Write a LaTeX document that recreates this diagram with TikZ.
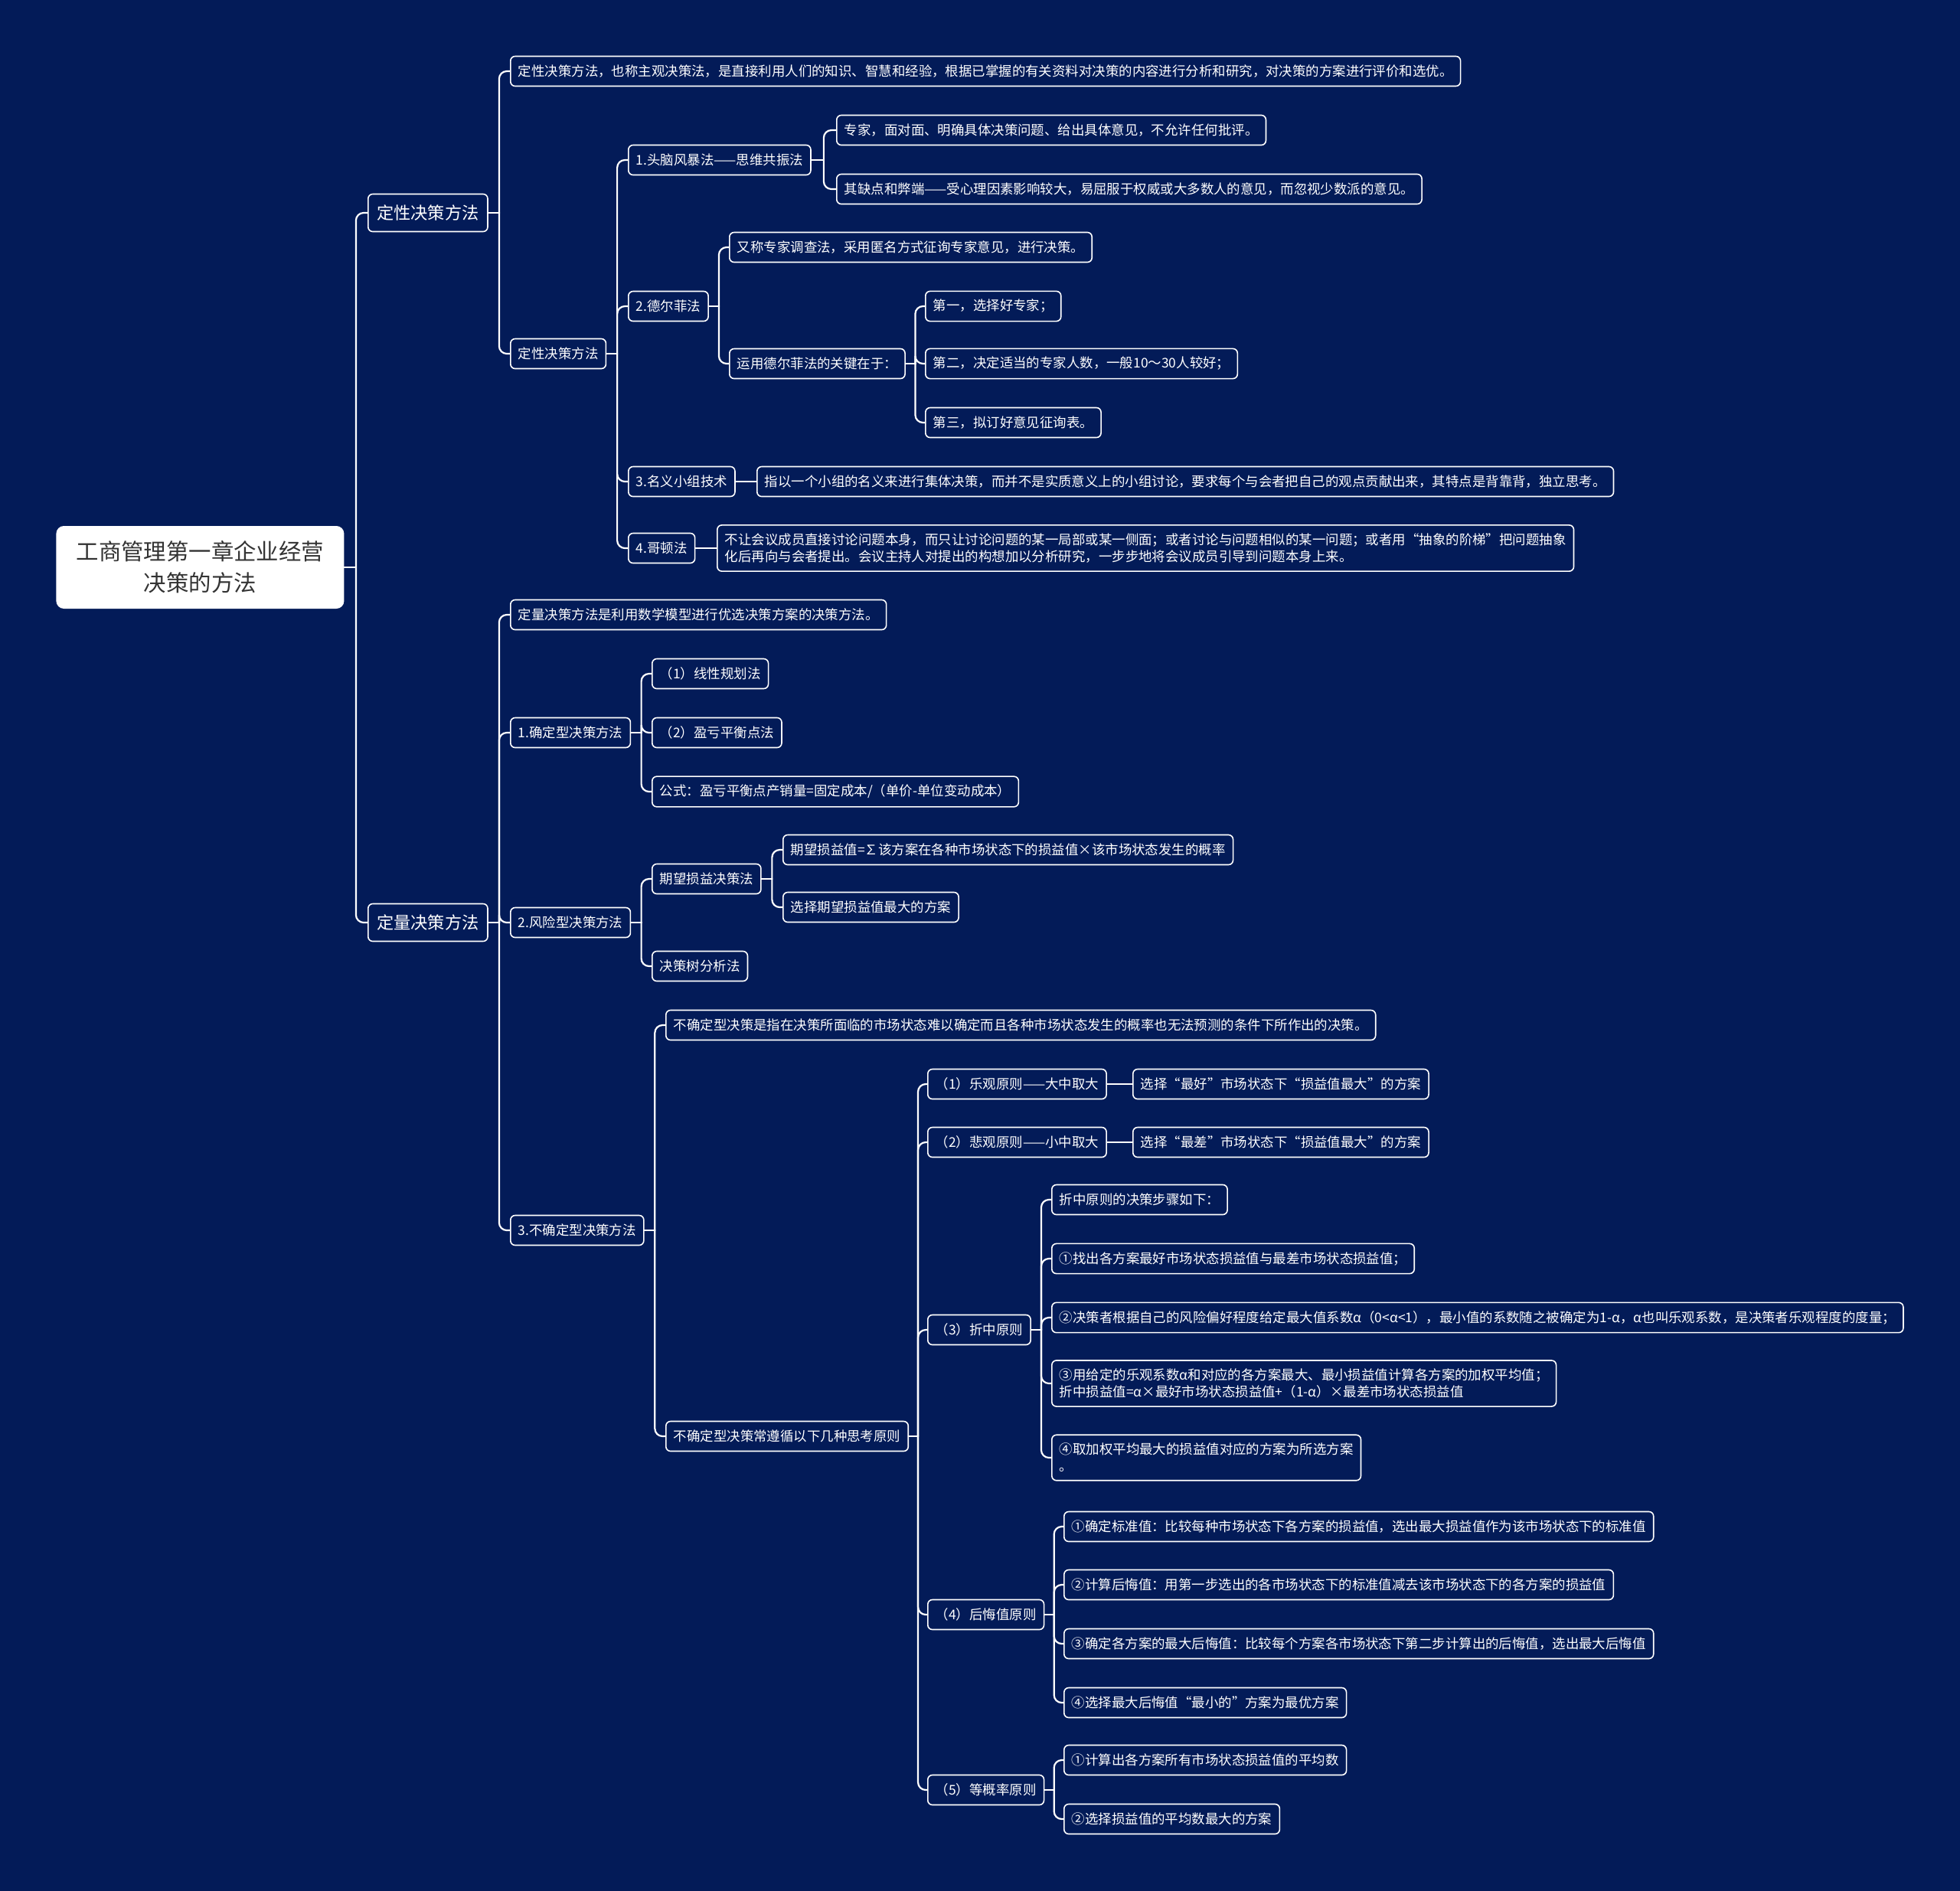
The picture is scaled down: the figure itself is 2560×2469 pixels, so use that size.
\documentclass[tikz,border=0pt]{standalone}
\usepackage{fontspec}
\setmainfont{Noto Sans CJK SC}
\usetikzlibrary{calc}
\definecolor{navybg}{HTML}{031B58}
\definecolor{roottext}{HTML}{333333}
\tikzset{
  link/.style={draw=white, line width=1.1pt, line cap=round},
  leaf/.style={draw=white, line width=0.8pt, rounded corners=3pt, fill=navybg,
    text=white, anchor=west, align=left, inner xsep=5pt, inner ysep=5.4pt,
    minimum height=19.5pt, font=\fontsize{8.72}{11}\selectfont},
  topic/.style={leaf, inner xsep=5.75pt, minimum height=24.5pt,
    font=\fontsize{11.1}{14}\selectfont},
  rootbox/.style={fill=white, rounded corners=5pt, text=roottext, anchor=west,
    align=center, minimum width=188pt, minimum height=54pt,
    font=\fontsize{14.7}{20.4}\selectfont},
}
% stub from the parent to the trunk, then a rounded bend into the child
\newcommand{\branch}[2]{%
  \draw[link] (#1.east) -- ($(#1.east)!0.5!(#1.east -| #2.west)$);
  \draw[link, rounded corners=5pt] ($(#1.east)!0.5!(#1.east -| #2.west)$) |- (#2.west);}
\begin{document}
\begin{tikzpicture}[x=0.5pt, y=-0.5pt]
    \useasboundingbox (0,0) rectangle (2560,2469);
    \fill[navybg] (-10,-10) rectangle (2570,2479);
    % Root and the two main groups of methods
    \node[rootbox] (root) at (73,741) {工商管理第一章企业经营\\决策的方法};
    \node[topic] (qual) at (480,278) {定性决策方法};
    \node[topic] (quant) at (480,1205) {定量决策方法};
    % Qualitative side
    \node[leaf] (qualdef) at (666,93) {定性决策方法，也称主观决策法，是直接利用人们的知识、智慧和经验，根据已掌握的有关资料对决策的内容进行分析和研究，对决策的方案进行评价和选优。};
    \node[leaf] (qualm) at (666,462) {定性决策方法};
    \node[leaf] (brain) at (820,209) {1.头脑风暴法——思维共振法};
    \node[leaf] (brainA) at (1092,170) {专家，面对面、明确具体决策问题、给出具体意见，不允许任何批评。};
    \node[leaf] (brainB) at (1092,247) {其缺点和弊端——受心理因素影响较大，易屈服于权威或大多数人的意见，而忽视少数派的意见。};
    \node[leaf] (delphi) at (820,400) {2.德尔菲法};
    \node[leaf] (delphiA) at (952,323) {又称专家调查法，采用匿名方式征询专家意见，进行决策。};
    \node[leaf] (delphiKey) at (952,475) {运用德尔菲法的关键在于：};
    \node[leaf] (key1) at (1208,400) {第一，选择好专家；};
    \node[leaf] (key2) at (1208,475) {第二，决定适当的专家人数，一般10～30人较好；};
    \node[leaf] (key3) at (1208,552) {第三，拟订好意见征询表。};
    \node[leaf] (nominal) at (820,629) {3.名义小组技术};
    \node[leaf] (nominalA) at (988,629) {指以一个小组的名义来进行集体决策，而并不是实质意义上的小组讨论，要求每个与会者把自己的观点贡献出来，其特点是背靠背，独立思考。};
    \node[leaf] (gordon) at (820,716) {4.哥顿法};
    \node[leaf] (gordonA) at (936,716) {不让会议成员直接讨论问题本身，而只让讨论问题的某一局部或某一侧面；或者讨论与问题相似的某一问题；或者用“抽象的阶梯”把问题抽象\\化后再向与会者提出。会议主持人对提出的构想加以分析研究，一步步地将会议成员引导到问题本身上来。};
    % Quantitative side
    \node[leaf] (quantdef) at (666,803) {定量决策方法是利用数学模型进行优选决策方案的决策方法。};
    \node[leaf] (certain) at (666,957) {1.确定型决策方法};
    \node[leaf] (lp) at (851,880) {（1）线性规划法};
    \node[leaf] (be) at (851,957) {（2）盈亏平衡点法};
    \node[leaf] (formula) at (851,1034) {公式：盈亏平衡点产销量=固定成本/（单价-单位变动成本）};
    \node[leaf] (risk) at (666,1205) {2.风险型决策方法};
    \node[leaf] (expect) at (851,1148) {期望损益决策法};
    \node[leaf] (expA) at (1022,1110) {期望损益值=∑该方案在各种市场状态下的损益值×该市场状态发生的概率};
    \node[leaf] (expB) at (1022,1185) {选择期望损益值最大的方案};
    \node[leaf] (tree) at (851,1262) {决策树分析法};
    \node[leaf] (uncertain) at (666,1607) {3.不确定型决策方法};
    \node[leaf] (uncdef) at (869,1339) {不确定型决策是指在决策所面临的市场状态难以确定而且各种市场状态发生的概率也无法预测的条件下所作出的决策。};
    \node[leaf] (rules) at (869,1876) {不确定型决策常遵循以下几种思考原则};
    % Principles under uncertainty
    \node[leaf] (opt) at (1211,1416) {（1）乐观原则——大中取大};
    \node[leaf] (optA) at (1479,1416) {选择“最好”市场状态下“损益值最大”的方案};
    \node[leaf] (pes) at (1211,1492) {（2）悲观原则——小中取大};
    \node[leaf] (pesA) at (1479,1492) {选择“最差”市场状态下“损益值最大”的方案};
    \node[leaf] (comp) at (1211,1737) {（3）折中原则};
    \node[leaf] (compA) at (1373,1567) {折中原则的决策步骤如下：};
    \node[leaf] (comp1) at (1373,1644) {①找出各方案最好市场状态损益值与最差市场状态损益值；};
    \node[leaf] (comp2) at (1373,1721) {②决策者根据自己的风险偏好程度给定最大值系数α（0<α<1），最小值的系数随之被确定为1-α，α也叫乐观系数，是决策者乐观程度的度量；};
    \node[leaf] (comp3) at (1373,1807) {③用给定的乐观系数α和对应的各方案最大、最小损益值计算各方案的加权平均值；\\折中损益值=α×最好市场状态损益值+（1-α）×最差市场状态损益值};
    \node[leaf] (comp4) at (1373,1904) {④取加权平均最大的损益值对应的方案为所选方案\\。};
    \node[leaf] (regret) at (1211,2109) {（4）后悔值原则};
    \node[leaf] (reg1) at (1389,1994) {①确定标准值：比较每种市场状态下各方案的损益值，选出最大损益值作为该市场状态下的标准值};
    \node[leaf] (reg2) at (1389,2070) {②计算后悔值：用第一步选出的各市场状态下的标准值减去该市场状态下的各方案的损益值};
    \node[leaf] (reg3) at (1389,2147) {③确定各方案的最大后悔值：比较每个方案各市场状态下第二步计算出的后悔值，选出最大后悔值};
    \node[leaf] (reg4) at (1389,2224) {④选择最大后悔值“最小的”方案为最优方案};
    \node[leaf] (equal) at (1211,2338) {（5）等概率原则};
    \node[leaf] (eq1) at (1389,2299) {①计算出各方案所有市场状态损益值的平均数};
    \node[leaf] (eq2) at (1389,2376) {②选择损益值的平均数最大的方案};
    % Connectors
    \foreach \p/\c in {root/qual, root/quant, qual/qualdef, qual/qualm,
        qualm/brain, qualm/delphi, qualm/nominal, qualm/gordon,
        brain/brainA, brain/brainB, delphi/delphiA, delphi/delphiKey,
        delphiKey/key1, delphiKey/key2, delphiKey/key3,
        quant/quantdef, quant/certain, quant/risk, quant/uncertain,
        certain/lp, certain/be, certain/formula, risk/expect, risk/tree,
        expect/expA, expect/expB, uncertain/uncdef, uncertain/rules,
        rules/opt, rules/pes, rules/comp, rules/regret, rules/equal,
        comp/compA, comp/comp1, comp/comp2, comp/comp3, comp/comp4,
        regret/reg1, regret/reg2, regret/reg3, regret/reg4,
        equal/eq1, equal/eq2}
      {\branch{\p}{\c}}
    \foreach \p/\c in {nominal/nominalA, gordon/gordonA, opt/optA, pes/pesA}
      \draw[link] (\p.east) -- (\c.west);
\end{tikzpicture}
\end{document}
